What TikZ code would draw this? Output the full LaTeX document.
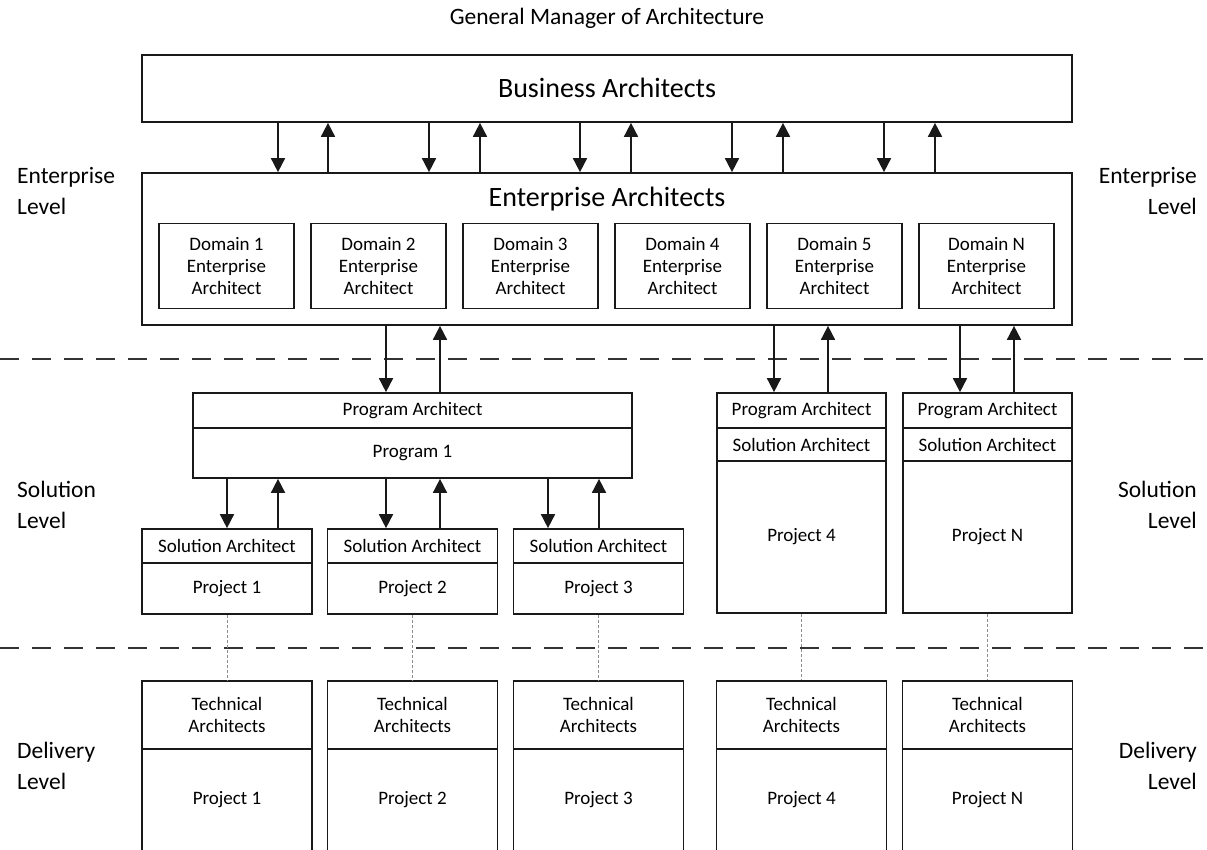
\documentclass[tikz,border=0pt]{standalone}
\usepackage{fontspec}
\setmainfont{Carlito}
\usetikzlibrary{arrows.meta}
\begin{document}
\begin{tikzpicture}[x=1pt,y=-1pt,
  box/.style={draw=black!90, line width=1.7pt, inner sep=0pt, align=center,
    font=\fontsize{19}{22}\selectfont, text=black},
  bigtext/.style={inner sep=0pt, font=\fontsize{28}{32}\selectfont, text=black},
  lvl/.style={inner sep=0pt, font=\fontsize{23.5}{31}\selectfont, text=black},
  arr/.style={draw=black!90, line width=1.7pt, -{Triangle[length=14pt,width=14pt]}},
  sep/.style={draw=black!80, line width=1.3pt, dash pattern=on 19pt off 13pt},
  link/.style={draw=black!45, line width=0.8pt, dash pattern=on 3pt off 2pt}
]
\useasboundingbox (0,0) rectangle (1207,849);
\clip (0,0) rectangle (1207,849);

% title and level captions
\node[lvl] (title) at (607,18) {General Manager of Architecture};
\node[lvl, anchor=west, align=left] (entL) at (17,191) {Enterprise\\Level};
\node[lvl, anchor=east, align=right] (entR) at (1197,191) {Enterprise\\Level};
\node[lvl, anchor=west, align=left] (solL) at (17,505) {Solution\\Level};
\node[lvl, anchor=east, align=right] (solR) at (1197,505) {Solution\\Level};
\node[lvl, anchor=west, align=left] (delL) at (17,766) {Delivery\\Level};
\node[lvl, anchor=east, align=right] (delR) at (1197,766) {Delivery\\Level};

% level separators
\coordinate (s1a) at (0,359);  \coordinate (s1b) at (1207,359);
\coordinate (s2a) at (0,648);  \coordinate (s2b) at (1207,648);
\draw[sep] (s1a) -- (s1b);
\draw[sep] (s2a) -- (s2b);

% enterprise level
\node[box, minimum width=930, minimum height=67] (ba) at (607,88.5) {};
\node[bigtext] (batxt) at (607,88) {Business Architects};
\node[box, minimum width=930, minimum height=152] (ea) at (607,249) {};
\node[bigtext] (eatxt) at (607,199) {Enterprise Architects};
\foreach \i/\lab [count=\k from 0] in {1/1,2/2,3/3,4/4,5/5,6/N}
  \node[box, minimum width=135, minimum height=85] (d\i) at (226.5+152*\k,266)
    {Domain \lab\\Enterprise\\Architect};

\foreach \x in {278,429,580,732,884}
  \draw[arr] (\x,0 |- ba.south) -- (\x,0 |- ea.north);
\foreach \x in {328,480,631,783,935}
  \draw[arr] (\x,0 |- ea.north) -- (\x,0 |- ba.south);

% solution level: program 1
\node[box, minimum width=439, minimum height=35] (pa1) at (412.5,410.5) {Program Architect};
\node[box, minimum width=439, minimum height=50] (pg1) at (412.5,453) {Program 1};

% solution level: projects 4 and N
\foreach \n/\cx in {4/801.5,N/987.5}{
  \node[box, minimum width=169, minimum height=35] (pa\n) at (\cx,410.5) {Program Architect};
  \node[box, minimum width=169, minimum height=33] (sa\n) at (\cx,444.5) {Solution Architect};
  \node[box, minimum width=169, minimum height=152] (pr\n) at (\cx,537) {Project \n};
}

% solution level: projects 1 to 3
\foreach \n/\cx in {1/227,2/412.5,3/598.5}{
  \node[box, minimum width=170, minimum height=34] (sa\n) at (\cx,546) {Solution Architect};
  \node[box, minimum width=170, minimum height=51] (pr\n) at (\cx,588.5) {Project \n};
}

% enterprise <-> programs
\draw[arr] (386,0 |- ea.south) -- (386,0 |- pa1.north);
\draw[arr] (440,0 |- pa1.north) -- (440,0 |- ea.south);
\draw[arr] (774,0 |- ea.south) -- (774,0 |- pa4.north);
\draw[arr] (828,0 |- pa4.north) -- (828,0 |- ea.south);
\draw[arr] (960,0 |- ea.south) -- (960,0 |- paN.north);
\draw[arr] (1014,0 |- paN.north) -- (1014,0 |- ea.south);

% program 1 <-> its projects
\draw[arr] (227,0 |- pg1.south) -- (227,0 |- sa1.north);
\draw[arr] (278,0 |- sa1.north) -- (278,0 |- pg1.south);
\draw[arr] (386,0 |- pg1.south) -- (386,0 |- sa2.north);
\draw[arr] (440,0 |- sa2.north) -- (440,0 |- pg1.south);
\draw[arr] (548,0 |- pg1.south) -- (548,0 |- sa3.north);
\draw[arr] (599,0 |- sa3.north) -- (599,0 |- pg1.south);

% delivery level
\foreach \n/\cx in {1/227,2/412.5,3/598.5,4/801.5,N/987.5}{
  \node[box, minimum width=170, minimum height=68] (ta\n) at (\cx,715) {Technical\\Architects};
  \node[box, minimum width=170, minimum height=102] (dp\n) at (\cx,800) {Project \n};
  \draw[link] (pr\n.south) -- (ta\n.north);
}
\end{tikzpicture}
\end{document}
